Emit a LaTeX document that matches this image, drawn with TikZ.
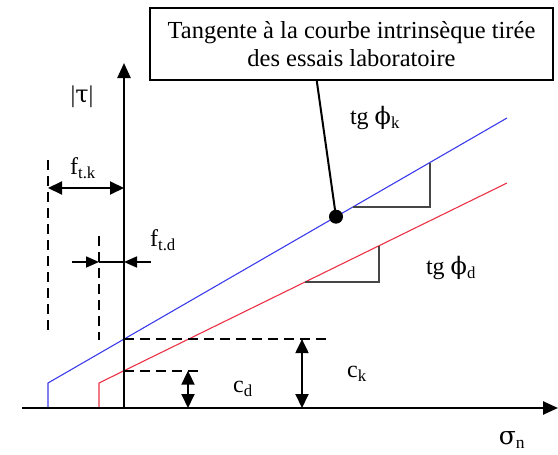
\documentclass[tikz,border=0pt]{standalone}
\usepackage{fontspec}
\setmainfont{Liberation Serif}
\newfontfamily\grk{DejaVu Serif}
\usetikzlibrary{arrows.meta,calc}
\definecolor{kblue}{RGB}{60,60,235}
\definecolor{dred}{RGB}{235,50,70}
\definecolor{tri}{RGB}{70,70,70}
\begin{document}
\begin{tikzpicture}[x=1pt,y=-1pt,
  axisline/.style={line width=2.4pt,-{Triangle[length=15pt,width=13pt]}},
  dimarrow/.style={line width=2pt,{Triangle[length=14pt,width=13pt]}-{Triangle[length=14pt,width=13pt]}},
  onearrow/.style={line width=1.6pt,-{Triangle[length=13pt,width=11pt]}},
  dashline/.style={line width=2pt,dash pattern=on 10pt off 6pt},
  bluecurve/.style={kblue,line width=1.1pt},
  redcurve/.style={dred,line width=1.1pt},
  slopetri/.style={tri,line width=1.2pt},
  lbl/.style={inner sep=0pt,font=\fontsize{24}{26}\selectfont},
  boxstyle/.style={draw,line width=1.2pt,minimum width=403pt,minimum height=72pt,align=center,inner sep=2pt,font=\fontsize{24.5}{28}\selectfont}
]
\useasboundingbox (0,0) rectangle (558,455);
% axes
\coordinate (O) at (124,408);
\coordinate (Ytop) at (124,63);
\coordinate (Xl) at (22,408);
\coordinate (Xr) at (558,408);
% blue curve
\coordinate (B0) at (48,408);
\coordinate (B1) at (48,383);
\coordinate (B2) at (507,118);
% red curve
\coordinate (R0) at (99,408);
\coordinate (R1) at (99,383);
\coordinate (R2) at (507,183);
% intercepts
\coordinate (CK) at (124,339.1);
\coordinate (CKe) at (330,339.1);
\coordinate (CD) at (124,370.7);
\coordinate (CDe) at (203,370.7);
\coordinate (CKa) at (302,339.1);
\coordinate (CKb) at (302,408);
\coordinate (CDa) at (188,370.7);
\coordinate (CDb) at (188,408);
% slope triangles
\coordinate (TB1) at (352.8,207);
\coordinate (TB2) at (430,207);
\coordinate (TB3) at (430,162.5);
\coordinate (TR1) at (305,282);
\coordinate (TR2) at (379,282);
\coordinate (TR3) at (379,245.7);
% dot
\coordinate (D) at (336,216.7);
% f_t.k / f_t.d
\coordinate (FKt) at (48,160);
\coordinate (FKb) at (48,336);
\coordinate (FKa) at (48,188);
\coordinate (FKc) at (124,188);
\coordinate (FDt) at (99,236);
\coordinate (FDb) at (99,340);
\coordinate (FDl) at (72,262);
\coordinate (FDa) at (99,262);
\coordinate (FDc) at (124,262);
\coordinate (FDr) at (151,262);

% curves
\draw[bluecurve] (B0) -- (B1) -- (B2);
\draw[redcurve] (R0) -- (R1) -- (R2);
% slope triangles
\draw[slopetri] (TB1) -- (TB2) -- (TB3);
\draw[slopetri] (TR1) -- (TR2) -- (TR3);
% dashed lines
\draw[dashline] (CK) -- (CKe);
\draw[dashline] (CD) -- (CDe);
\draw[dashline] (FKt) -- (FKb);
\draw[dashline] (FDt) -- (FDb);
% dimension arrows
\draw[dimarrow] (CKa) -- (CKb);
\draw[dimarrow] (CDa) -- (CDb);
\draw[dimarrow] (FKa) -- (FKc);
\draw[onearrow] (FDl) -- (FDa);
\draw[onearrow] (FDr) -- (FDc);
\draw[line width=1.2pt] (FDa) -- (FDc);
% axes
\draw[axisline] (Xl) -- (Xr);
\draw[axisline] (O) -- (Ytop);
% box and leader
\node[boxstyle] (box) at (351.5,44) {Tangente à la courbe intrinsèque tirée\\des essais laboratoire};
\coordinate (L) at ($(box.south west)!0.414!(box.south east)$);
\draw[line width=2pt] (L) -- (D);
\fill (D) circle (7pt);
% labels
\node[lbl] (tau) at (82,97) {|{\grk τ}|};
\node[lbl] (ftk) at (83,168) {f\textsubscript{t.k}};
\node[lbl] (ftd) at (163,240) {f\textsubscript{t.d}};
\node[lbl] (tgk) at (375,118) {tg {\grk ϕ}\textsubscript{k}};
\node[lbl] (tgd) at (451,268) {tg {\grk ϕ}\textsubscript{d}};
\node[lbl] (cd) at (243,389) {c\textsubscript{d}};
\node[lbl] (ck) at (357,374) {c\textsubscript{k}};
\node[lbl,font=\fontsize{25}{27}\selectfont] (sn) at (512,440) {{\grk σ}\textsubscript{n}};
\end{tikzpicture}
\end{document}
